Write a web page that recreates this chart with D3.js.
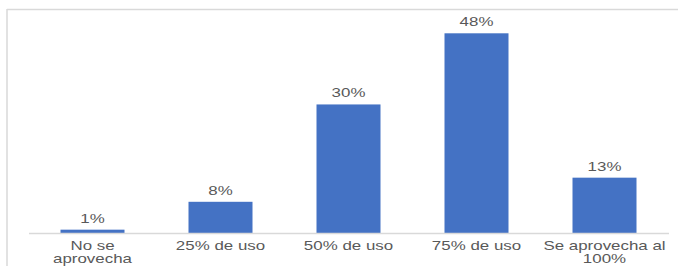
<!DOCTYPE html>
<html>
<head>
<meta charset="utf-8">
<script src="https://cdn.jsdelivr.net/npm/d3@7"></script>
<style>
  html, body { margin: 0; padding: 0; background: #fff; }
  svg { display: block; }
  text { font-family: "Liberation Sans", Arial, sans-serif; fill: #595959; }
</style>
</head>
<body>
<svg id="chart" width="678" height="266"></svg>
<script>
const categories = ["No se aprovecha", "25% de uso", "50% de uso", "75% de uso", "Se aprovecha al 100%"];
const tickLabels = [["No se", "aprovecha"], ["25% de uso"], ["50% de uso"], ["75% de uso"], ["Se aprovecha al", "100%"]];
const values = [0.8, 7.5, 30.9, 48, 13.3];
const valueLabels = ["1%", "8%", "30%", "48%", "13%"];

const W = 678, H = 266;
const baseY = 233;
const svg = d3.select("#chart");
const SX = 1.41;

// outer border (top and left visible)
svg.append("line").attr("x1", 7).attr("x2", W).attr("y1", 9.5).attr("y2", 9.5)
  .attr("stroke", "#d9d9d9").attr("stroke-width", 1.5);
svg.append("line").attr("x1", 7).attr("x2", 7).attr("y1", 9).attr("y2", H)
  .attr("stroke", "#d9d9d9").attr("stroke-width", 1.5);

const x = d3.scaleBand().domain(categories).range([28.5, 668.5])
  .paddingInner(0.5).paddingOuter(0.25);
const y = d3.scaleLinear().domain([0, 48]).range([baseY, 33.3]);

svg.selectAll("rect.bar").data(values).join("rect")
  .attr("class", "bar")
  .attr("x", (d, i) => x(categories[i]))
  .attr("width", x.bandwidth())
  .attr("y", d => y(d))
  .attr("height", d => baseY - y(d))
  .attr("fill", "#4472C4");

svg.selectAll("text.val").data(values).join("text")
  .attr("class", "val")
  .attr("transform", (d, i) => `translate(${x(categories[i]) + x.bandwidth() / 2},${y(d) - 7}) scale(${SX},1)`)
  .attr("text-anchor", "middle")
  .attr("font-size", 12)
  .text((d, i) => valueLabels[i]);

const axis = d3.axisBottom(x).tickSize(0).tickFormat("");
const gx = svg.append("g").attr("transform", `translate(0,${baseY})`).call(axis);
gx.select(".domain").attr("stroke", "#d9d9d9").attr("stroke-width", 1.5);

const lab = svg.append("g");
categories.forEach((c, i) => {
  const cx = x(c) + x.bandwidth() / 2;
  tickLabels[i].forEach((line, j) => {
    lab.append("text")
      .attr("transform", `translate(${cx},${250 + j * 12.6}) scale(${SX},1)`)
      .attr("text-anchor", "middle")
      .attr("font-size", 12)
      .text(line);
  });
});
</script>
</body>
</html>
